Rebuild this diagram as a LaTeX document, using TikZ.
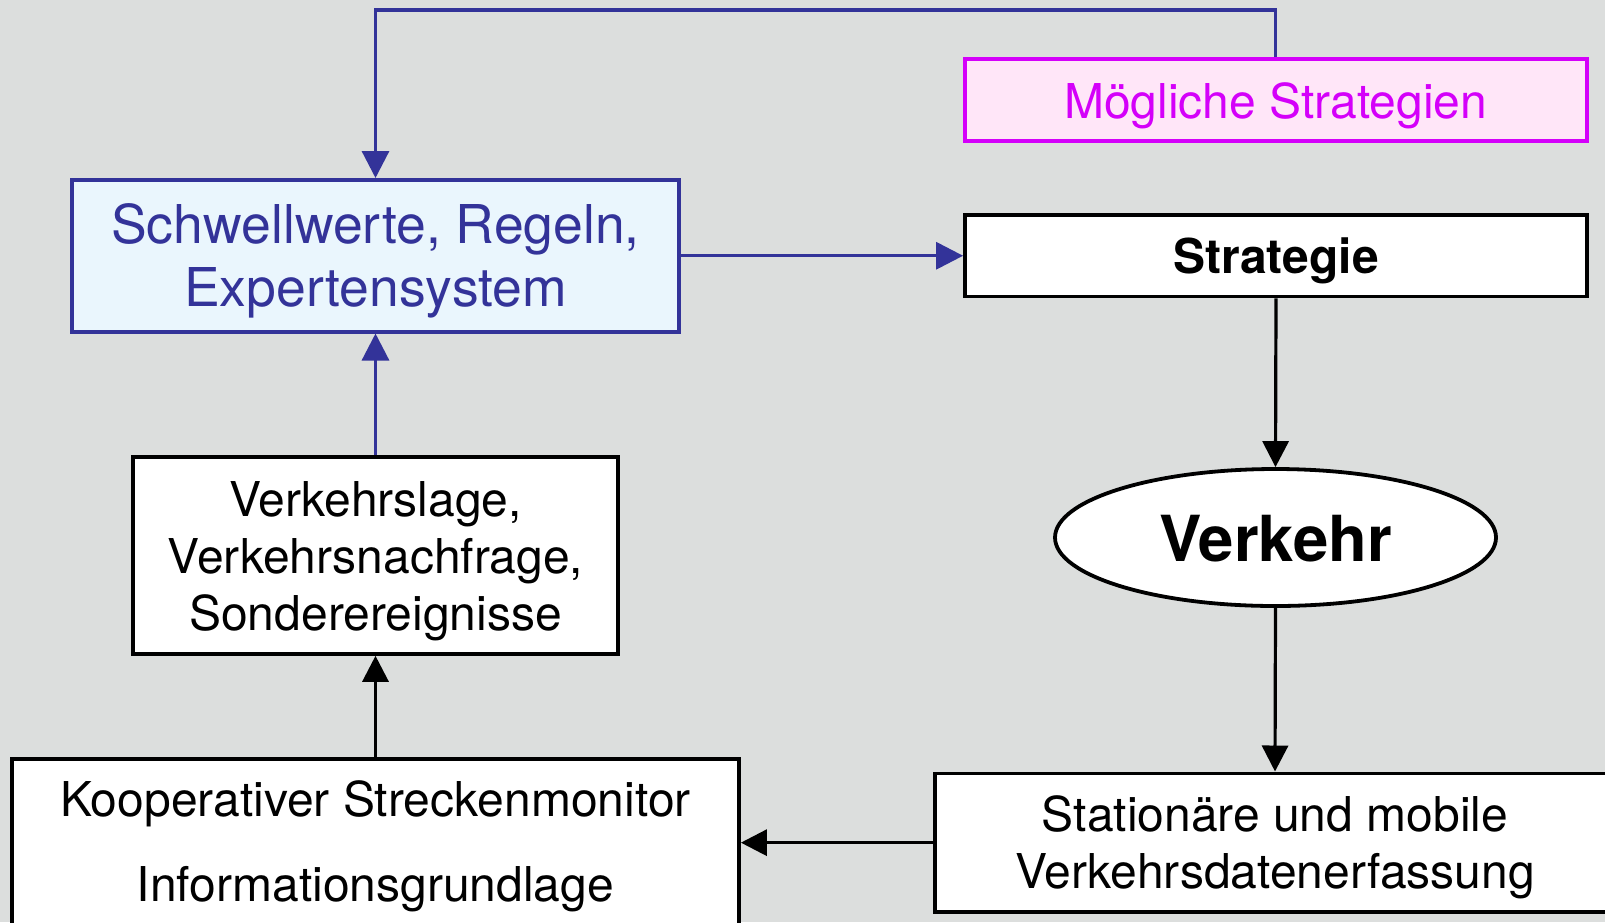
\documentclass[tikz,border=0pt]{standalone}
\usepackage{fontspec}
\setmainfont{TeX Gyre Heros}
\usetikzlibrary{arrows.meta,shapes.geometric}
\definecolor{bg}{HTML}{DCDEDD}
\definecolor{dblue}{HTML}{333399}
\definecolor{lblue}{HTML}{EAF6FD}
\definecolor{mag}{HTML}{D400FA}
\definecolor{pinkfill}{HTML}{FFE6F8}
\begin{document}
\begin{tikzpicture}[x=1pt,y=-1pt,
  box/.style={rectangle, draw=black, fill=white, line width=3.8pt, inner sep=0pt, align=center, anchor=north},
  bluebox/.style={box, draw=dblue, fill=lblue, text=dblue, line width=3.5pt},
  magbox/.style={box, draw=mag, fill=pinkfill, text=mag, line width=4pt},
  barrow/.style={draw=dblue, line width=3.2pt, -{Triangle[width=27pt,length=27pt]}},
  karrow/.style={draw=black, line width=3.2pt, -{Triangle[width=26pt,length=26pt]}}
]
\fill[bg] (0,0) rectangle (1605,922);
\useasboundingbox (0,0) rectangle (1605,922);
\clip (0,0) rectangle (1605,922);

\node[magbox, minimum width=622pt, text height=59.7pt, text depth=22.3pt,
  font=\fontsize{48}{57}\selectfont] (mog) at (1275.5,57) {Mögliche Strategien};
\node[bluebox, minimum width=607pt, text height=127pt, text depth=25pt,
  font=\fontsize{53.5}{63.3}\selectfont] (schw) at (375.5,178) {Schwellwerte, Regeln,\\Expertensystem};
\node[box, minimum width=622pt, text height=58.7pt, text depth=22.8pt,
  font=\fontsize{48}{57}\selectfont\bfseries] (strat) at (1276,213) {Strategie};
\node[ellipse, draw=black, fill=white, line width=3.8pt, inner sep=0pt,
  minimum width=441pt, minimum height=137pt, text height=48.4pt, text depth=0pt,
  font=\fontsize{63.5}{70}\selectfont\bfseries] (verk) at (1275.5,537.5) {Verkehr};
\node[box, minimum width=485pt, text height=174pt, text depth=23pt,
  font=\fontsize{48}{57}\selectfont] (vlage) at (375.5,455) {Verkehrslage,\\Verkehrsnachfrage,\\Sonderereignisse};
\node[box, minimum width=727pt, text height=143pt, text depth=95pt,
  font=\fontsize{48}{85}\selectfont] (koop) at (375.5,757) {Kooperativer Streckenmonitor\\Informationsgrundlage};
\node[box, minimum width=680pt, text height=115.2pt, text depth=23.3pt,
  font=\fontsize{48}{56.7}\selectfont] (stat) at (1275,771.5) {Stationäre und mobile\\Verkehrsdatenerfassung};

\coordinate (topleft) at (375.5,10);
\draw[barrow] (mog.north) |- (topleft) -- (schw.north);
\draw[barrow] (schw.east) -- (schw.east -| strat.west);
\draw[karrow] (strat.south) -- (verk.north);
\draw[karrow] (verk.south) -- (stat.north);
\draw[karrow] (stat.west) -- (stat.west -| koop.east);
\draw[karrow] (koop.north) -- (vlage.south);
\draw[barrow] (vlage.north) -- (schw.south);
\end{tikzpicture}
\end{document}
